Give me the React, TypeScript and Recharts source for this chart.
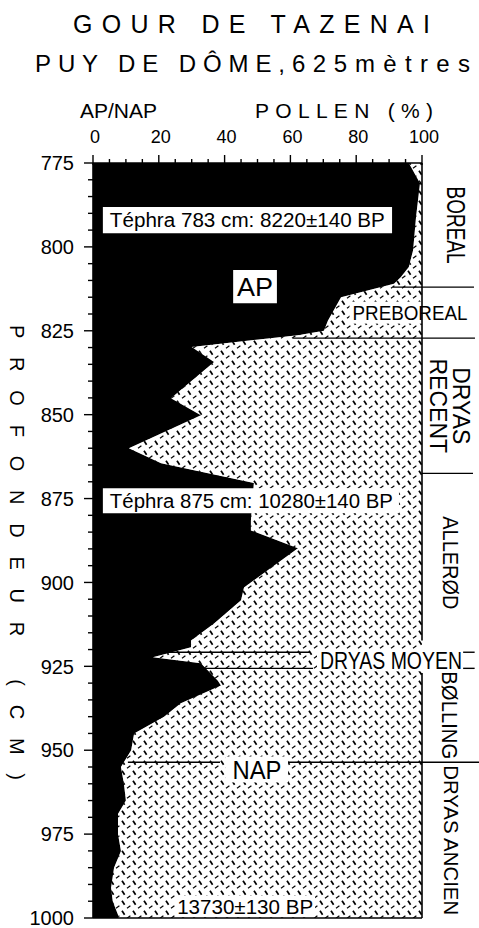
import React from "react";
import { Area, ComposedChart, ReferenceArea, ReferenceLine, XAxis, YAxis } from "recharts";

const FONT = '"Liberation Sans", Arial, Helvetica, sans-serif';

// depth (cm) and arboreal pollen (%)
const depths = [775, 781, 791, 801, 806, 809, 811, 815, 822, 825, 826.3, 829.8, 834.3, 845.1, 850.2, 860, 864.5, 870.4, 881.5, 884.5, 889.8, 901.5, 905.3, 912.2, 917.3, 919.3, 922.3, 924.1, 929.2, 930.7, 936, 940, 945, 950, 955, 960, 965, 969, 975, 980, 985, 991, 995, 999, 1000];
const apPercent = [96, 99.4, 98.2, 97.3, 96, 93.6, 91.5, 75.4, 71.4, 70.2, 62.3, 30, 36.8, 23.7, 32.8, 10.9, 20.7, 48.9, 48, 48, 62.3, 45.9, 45, 36.8, 29.8, 29.8, 18.2, 32.8, 37.9, 38.9, 26.7, 21.6, 12.5, 11.6, 8.5, 9.4, 10, 7.6, 7.6, 8.5, 6.4, 5.5, 6, 7.6, 7.8];

const pollenTicks = [0, 5, 10, 15, 20, 25, 30, 35, 40, 45, 50, 55, 60, 65, 70, 75, 80, 85, 90, 95, 100];
const depthTicks = [775, 780, 785, 790, 795, 800, 805, 810, 815, 820, 825, 830, 835, 840, 845, 850, 855, 860, 865, 870, 875, 880, 885, 890, 895, 900, 905, 910, 915, 920, 925, 930, 935, 940, 945, 950, 955, 960, 965, 970, 975, 980, 985, 990, 995, 1000];

// chronozones
const zoneNames = ["BOREAL", "PREBOREAL", "DRYAS RECENT", "ALLERØD", "DRYAS MOYEN", "BØLLING", "DRYAS ANCIEN"];
const zoneTop = [775, 812, 827.2, 867.5, 920.8, 925.6, 953.6];
const zoneBottom = [812, 827.2, 867.5, 920.8, 925.6, 953.6, 1000];

// zone boundary strokes (depth, from %, to %)
const lineDepth = [812, 827.2, 867.5, 920.8, 920.8, 925.6, 925.6, 953.6, 953.6];
const lineFrom = [91.2, 60.8, 100, 19.5, 112.5, 32.5, 112.5, 10.6, 59.3];
const lineTo = [115.8, 116.1, 115.5, 66, 116, 66.9, 116, 38.6, 117.5];

// notes inside the diagram
const noteText = ["Téphra 783 cm: 8220±140 BP", "AP", "Téphra 875 cm: 10280±140 BP", "NAP", "13730±130 BP"];
const noteX1 = [3.0, 42.6, 3.0, 40.4, 25.0];
const noteX2 = [90.9, 55.9, 93.0, 59.3, 67.5];
const noteY1 = [788.1, 806.9, 871.9, 951.9, 993.4];
const noteY2 = [795.9, 816.8, 879.4, 959.6, 999.8];

const rows = depths.map((d, i) => ({ depth: d, ap: apPercent[i], nap: 100 - apPercent[i] }));

const zoneLook: Record<string, { dx: number[]; len: number[]; size: number; vertical: boolean }> = {
  BOREAL: { dx: [34], len: [77], size: 25, vertical: true },
  PREBOREAL: { dx: [-12], len: [115], size: 21, vertical: false },
  "DRYAS RECENT": { dx: [39, 16], len: [60, 79], size: 23, vertical: true },
  "ALLERØD": { dx: [29], len: [93], size: 22, vertical: true },
  "DRYAS MOYEN": { dx: [-31], len: [142], size: 24, vertical: false },
  "BØLLING": { dx: [28], len: [88], size: 22, vertical: true },
  "DRYAS ANCIEN": { dx: [30], len: [150], size: 21, vertical: true },
};

const noteLook = [
  { size: 20, len: 275, pad: 7 },
  { size: 26, len: 36, pad: -1 },
  { size: 20, len: 283, pad: 7 },
  { size: 26, len: 49, pad: -1 },
  { size: 20, len: 136, pad: -1 },
];

function TopTick(props: any) {
  const { x, y, payload } = props;
  const v = payload.value;
  const major = v % 20 === 0;
  return (
    <g>
      <line x1={x} x2={x} y1={y - (major ? 8 : 4)} y2={y + 2} stroke="#000" strokeWidth={1.4} />
      {major && (
        <text x={x + 2} y={y - 20} textAnchor="middle" fontSize={18} fontFamily={FONT} fill="#000">
          {v}
        </text>
      )}
    </g>
  );
}

function LeftTick(props: any) {
  const { x, y, payload } = props;
  const v = payload.value;
  const major = (v - 775) % 25 === 0;
  return (
    <g>
      <line x1={x - (major ? 9 : 5)} x2={x} y1={y} y2={y} stroke="#000" strokeWidth={1.4} />
      {major && (
        <text x={x - 19} y={y} dy="0.36em" textAnchor="end" fontSize={20} fontFamily={FONT} fill="#000">
          {v}
        </text>
      )}
    </g>
  );
}

const zoneLabel = (name: string) => (props: any) => {
  const vb = props.viewBox;
  const look = zoneLook[name];
  const parts = look.dx.length > 1 ? name.split(" ") : [name];
  const cy = vb.y + vb.height / 2;
  return (
    <g>
      {parts.map((p, i) => {
        const cx = vb.x + look.dx[i];
        if (!look.vertical) {
          return (
            <g key={p}>
              <rect x={cx - look.len / 2 - 3} y={cy - 11} width={look.len + 6} height={22} fill="#fff" />
              <text x={cx} y={cy} dy="0.36em" textAnchor="middle" fontSize={look.size} fontFamily={FONT}
                textLength={look.len} lengthAdjust="spacingAndGlyphs" fill="#000">{p}</text>
            </g>
          );
        }
        return (
          <text key={p} x={cx} y={cy} dy="0.36em" transform={`rotate(90 ${cx} ${cy})`} textAnchor="middle"
            fontSize={look.size} fontFamily={FONT} textLength={look.len} lengthAdjust="spacingAndGlyphs" fill="#000">
            {p}
          </text>
        );
      })}
    </g>
  );
};

const noteLabel = (i: number) => (props: any) => {
  const vb = props.viewBox;
  const look = noteLook[i];
  const cy = vb.y + vb.height / 2;
  const start = look.pad >= 0;
  return (
    <text x={start ? vb.x + look.pad : vb.x + vb.width / 2} y={cy} dy="0.36em" textAnchor={start ? "start" : "middle"}
      fontSize={look.size} fontFamily={FONT} textLength={look.len} lengthAdjust="spacingAndGlyphs" fill="#000">
      {noteText[i]}
    </text>
  );
};

export default function App() {
  return (
    <div style={{ position: "relative", width: 479, height: 928, background: "#fff" }}>
      <style>{`body{margin:0}`}</style>
      <ComposedChart width={479} height={928} layout="vertical" data={rows}
        margin={{ top: 133, right: 57, bottom: 10, left: 33 }}>
        <defs>
          <pattern id="napHatch" width="11" height="10" patternUnits="userSpaceOnUse">
            <rect width="11" height="10" fill="#fff" />
            <line x1="1" y1="0.8" x2="3.6" y2="4.8" stroke="#000" strokeWidth="1.7" />
            <line x1="6" y1="8.2" x2="9.4" y2="5.8" stroke="#000" strokeWidth="1.2" />
          </pattern>
        </defs>
        <XAxis type="number" orientation="top" domain={[0, 100]} ticks={pollenTicks} interval={0}
          tickSize={0} tickMargin={0} tickLine={false} tick={(p: any) => <TopTick {...p} />}
          axisLine={{ stroke: "#000", strokeWidth: 1.6 }} height={30} allowDataOverflow />
        <YAxis type="number" dataKey="depth" domain={[775, 1000]} ticks={depthTicks} interval={0}
          tickSize={0} tickMargin={0} tickLine={false} tick={(p: any) => <LeftTick {...p} />}
          axisLine={{ stroke: "#000", strokeWidth: 1.6 }} width={60} allowDataOverflow />
        <Area dataKey="ap" stackId="p" type="linear" fill="#000" fillOpacity={1} stroke="#000" strokeWidth={0.6}
          isAnimationActive={false} />
        <Area dataKey="nap" stackId="p" type="linear" fill="url(#napHatch)" fillOpacity={1} stroke="none"
          isAnimationActive={false} />
        <ReferenceLine segment={[{ x: 100, y: 775 }, { x: 100, y: 917.3 }]} stroke="#000" strokeWidth={1.6} ifOverflow="visible" />
        <ReferenceLine segment={[{ x: 100, y: 927 }, { x: 100, y: 1000 }]} stroke="#000" strokeWidth={1.6} ifOverflow="visible" />
        <ReferenceLine segment={[{ x: 0, y: 1000 }, { x: 100, y: 1000 }]} stroke="#000" strokeWidth={1.6} ifOverflow="visible" />
        {lineDepth.map((d, i) => (
          <ReferenceLine key={`b${i}`} segment={[{ x: lineFrom[i], y: d }, { x: lineTo[i], y: d }]}
            stroke="#000" strokeWidth={1.4} ifOverflow="visible" />
        ))}
        {noteText.map((t, i) => (
          <ReferenceArea key={t} x1={noteX1[i]} x2={noteX2[i]} y1={noteY1[i]} y2={noteY2[i]}
            fill="#fff" fillOpacity={1} stroke="none" ifOverflow="visible" label={noteLabel(i)} />
        ))}
        {zoneNames.map((z, i) => (
          <ReferenceArea key={z} x1={100} x2={116} y1={zoneTop[i]} y2={zoneBottom[i]}
            fill="none" stroke="none" ifOverflow="visible" label={zoneLabel(z)} />
        ))}
      </ComposedChart>
      <svg width={479} height={928} style={{ position: "absolute", left: 0, top: 0, pointerEvents: "none" }}
        fontFamily={FONT} fill="#000">
        <text x={73} y={33} fontSize={25} textLength={357} lengthAdjust="spacing">GOUR DE TAZENAI</text>
        <text x={35} y={72} fontSize={24} textLength={250} lengthAdjust="spacing">PUY DE DÔME,</text>
        <text x={292} y={72} fontSize={24} textLength={55} lengthAdjust="spacing">625</text>
        <text x={355} y={72} fontSize={24} textLength={115} lengthAdjust="spacing">mètres</text>
        <text x={80} y={118} fontSize={20} textLength={77} lengthAdjust="spacingAndGlyphs">AP/NAP</text>
        <text x={255} y={118} fontSize={21} textLength={178} lengthAdjust="spacing">POLLEN (%)</text>
        <text x={17} y={325} dy="0.36em" transform="rotate(90 17 325)" fontSize={20} textLength={455}
          lengthAdjust="spacing">PROFONDEUR (CM)</text>
      </svg>
    </div>
  );
}
